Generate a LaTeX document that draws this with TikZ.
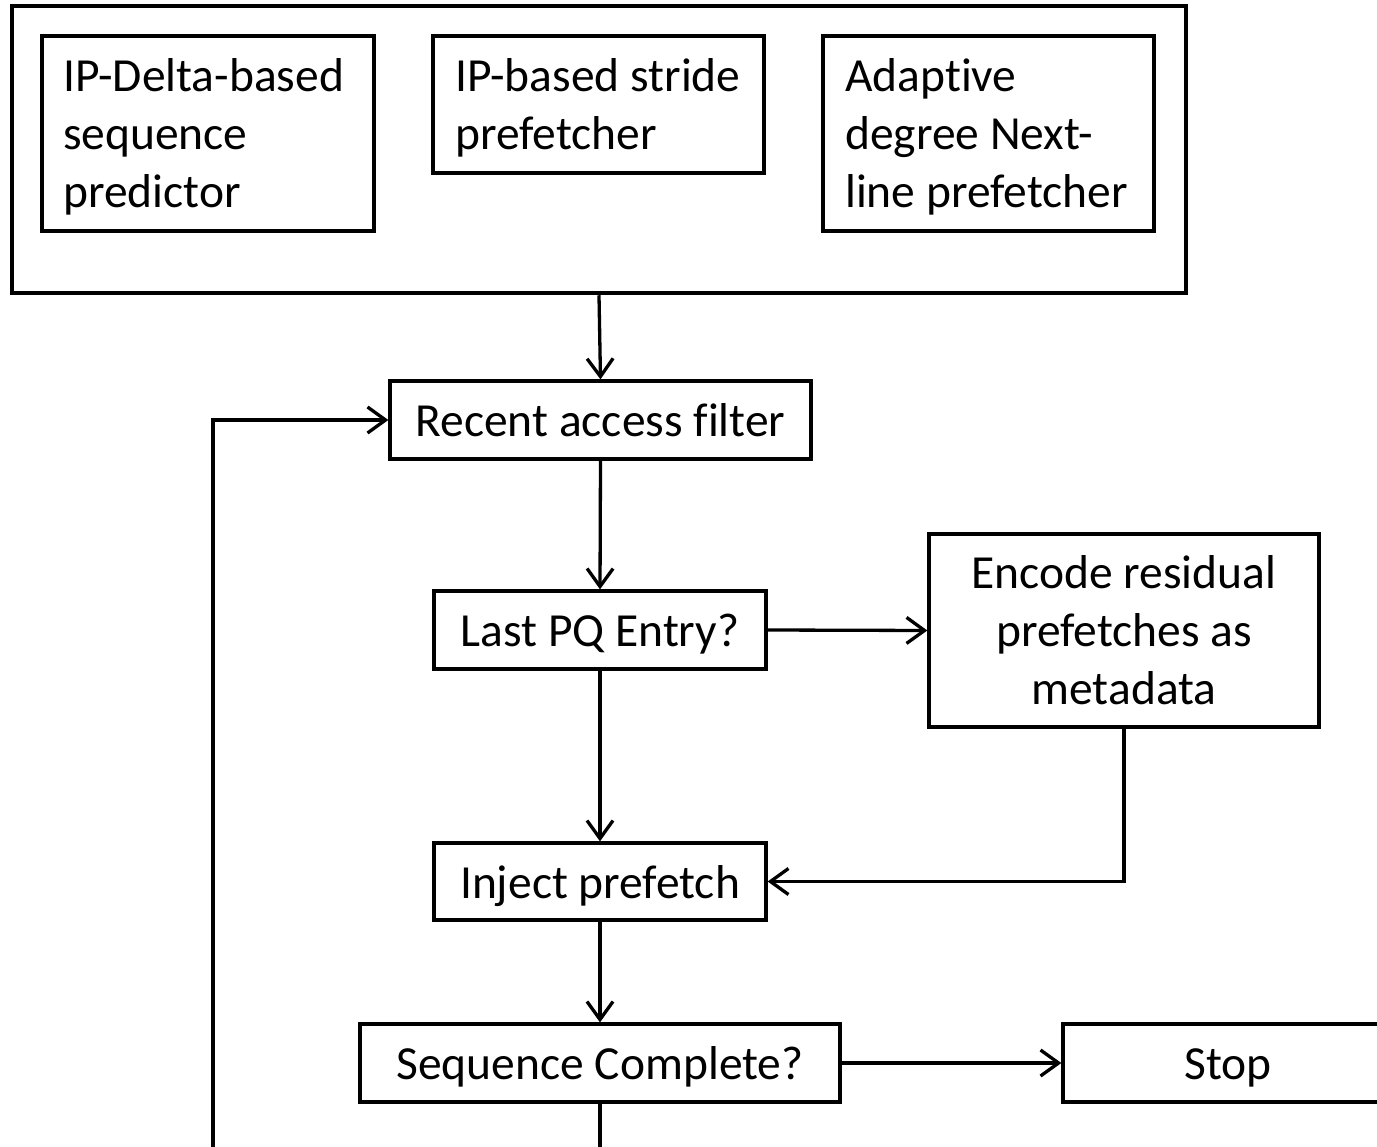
\documentclass[tikz,border=0pt]{standalone}
\usepackage{fontspec}
\setmainfont[Ligatures=CommonOff]{Carlito}
\usetikzlibrary{arrows.meta}
\begin{document}
\begin{tikzpicture}[x=1pt,y=-1pt,
  box/.style={draw, line width=3.3pt, inner sep=0pt, font=\fontsize{47.5}{58}\selectfont, align=center},
  one/.style={text height=33pt, text depth=0pt},
  arr/.style={line width=3.3pt, -{Straight Barb[length=18pt,width=26pt,line width=3.3pt]}},
  plain/.style={line width=3.3pt},
  lbl/.style={font=\fontsize{47.5}{58}\selectfont, align=left, inner sep=0pt}]
\useasboundingbox (0,0) rectangle (1377,1147);
% top group
\node[box, line width=4.5pt, minimum width=1174pt, minimum height=287pt] (outer) at (599,149.5) {};
\node[box, minimum width=332pt, minimum height=195pt] (b1) at (208,133.5) {};
\node[box, minimum width=331pt, minimum height=137pt] (b2) at (598.5,104.5) {};
\node[box, minimum width=331pt, minimum height=195pt] (b3) at (988.5,133.5) {};
\node[lbl, anchor=base west] (t1) at (63,208) {IP-Delta-based\\sequence\\predictor};
\node[lbl, anchor=base west] (t2) at (455,150) {IP-based stride\\prefetcher};
\node[lbl, anchor=base west] (t3) at (845,208) {Adaptive\\degree Next-\\line prefetcher};
% flow
\node[box, one, minimum width=421pt, minimum height=78pt] (recent) at (600.5,420) {Recent access filter};
\node[box, one, minimum width=332pt, minimum height=78pt] (last) at (600,630) {Last PQ Entry?};
\node[box, minimum width=390pt, minimum height=193pt] (encode) at (1124,630.5) {Encode residual\\prefetches as\\metadata};
\node[box, one, minimum width=332pt, minimum height=77pt] (inject) at (600,881.5) {Inject prefetch};
\node[box, one, minimum width=480pt, minimum height=78pt] (seq) at (600,1063) {Sequence Complete?};
\node[box, one, minimum width=330pt, minimum height=78pt] (stop) at (1228,1063) {Stop};
\coordinate (loopbot) at (213,1165);
\coordinate (seqbot) at (600,1165);
% connectors
\draw[arr] (outer.south) -- (recent.north);
\draw[arr] (recent.south) -- (last.north);
\draw[arr] (last.east) -- (encode.west);
\draw[arr] (last.south) -- (inject.north);
\draw[arr] (encode.south) |- (inject.east);
\draw[arr] (inject.south) -- (seq.north);
\draw[arr] (seq.east) -- (stop.west);
\draw[arr] (loopbot) |- (recent.west);
\draw[plain] (seq.south) -- (seqbot);
\end{tikzpicture}
\end{document}
